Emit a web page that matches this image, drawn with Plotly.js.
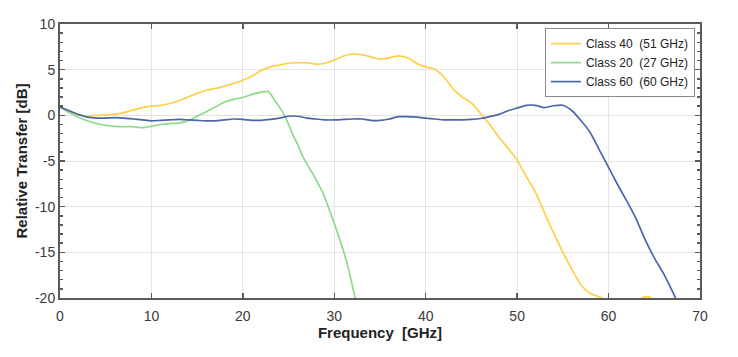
<!DOCTYPE html>
<html>
<head>
<meta charset="utf-8">
<script src="https://cdn.plot.ly/plotly-3.0.1.min.js"></script>
<style>html,body{margin:0;padding:0;background:#fff;}#chart{width:738px;height:357px;}</style>
</head>
<body>
<div id="chart"></div>
<script>
// Class 40 (51 GHz) - yellow
const class40Freq = [0,1,2,3,4,5,6,7,8,9,10,11,12,13,14,15,16,17,18,19,20,21,22,23,24,25,26,27,28,29,30,31,32,33,34,35,36,37,38,39,40,41,42,43,44,45,46,47,48,49,50,51,52,53,54,55,56,57,58,59,60,61,62,63,63.8,64.5,65,66,70];
const class40Val = [0.9,0.5,0.1,-0.1,0.0,0.05,0.14,0.3,0.6,0.85,1.0,1.1,1.3,1.6,2.0,2.4,2.75,2.95,3.2,3.5,3.85,4.3,4.9,5.3,5.5,5.7,5.76,5.76,5.6,5.7,6.05,6.5,6.7,6.65,6.4,6.15,6.3,6.5,6.3,5.7,5.3,5.05,4.2,2.9,2.0,1.35,0.2,-1.0,-2.4,-3.6,-4.9,-6.7,-8.4,-10.7,-12.9,-15.0,-16.9,-18.6,-19.5,-19.9,-20.5,-21,-21,-20.5,-19.9,-19.9,-20.3,-21,-21];

// Class 20 (27 GHz) - green
const class20Freq = [0,1,2,3,4,5,6,7,8,9,10,11,12,13,14,15,16,17,18,19,20,21,22,22.8,23.5,24,24.5,25,25.5,26,26.6,27.7,28.8,29.7,30.6,31.4,32.3,33];
const class20Val = [0.95,0.3,-0.2,-0.6,-0.9,-1.1,-1.2,-1.25,-1.25,-1.35,-1.2,-1.0,-0.9,-0.85,-0.6,-0.1,0.4,0.9,1.45,1.75,1.95,2.3,2.55,2.6,1.6,0.9,0.1,-1.0,-2.2,-3.2,-4.6,-6.5,-8.6,-11.0,-13.6,-16.2,-20,-22];

// Class 60 (60 GHz) - blue
const class60Freq = [0,1,2,3,4,5,6,7,8,9,10,11,12,13,14,15,16,17,18,19,20,21,22,23,24,25,26,27,28,29,30,31,32,33,34,35,36,37,38,39,40,41,42,43,44,45,46,47,48,49,50,51,52,53,54,55,56,57,58,59,60,61,62,63,64,65,66,67,67.5,68];
const class60Val = [0.9,0.5,0.1,-0.2,-0.3,-0.3,-0.26,-0.3,-0.4,-0.5,-0.6,-0.55,-0.5,-0.45,-0.5,-0.55,-0.6,-0.6,-0.5,-0.4,-0.45,-0.55,-0.55,-0.45,-0.3,-0.1,-0.1,-0.3,-0.4,-0.5,-0.5,-0.45,-0.4,-0.4,-0.55,-0.55,-0.4,-0.15,-0.15,-0.2,-0.3,-0.4,-0.5,-0.5,-0.5,-0.45,-0.35,-0.15,0.1,0.5,0.8,1.1,1.1,0.85,1.05,1.1,0.5,-0.6,-1.9,-3.8,-5.7,-7.6,-9.4,-11.3,-13.6,-15.6,-17.3,-19.3,-20.5,-22];

const seriesNames = ["Class\u00a040\u00a0\u00a0(51\u00a0GHz)", "Class\u00a020\u00a0\u00a0(27\u00a0GHz)", "Class\u00a060\u00a0\u00a0(60\u00a0GHz)"];
const xTicks = [0,10,20,30,40,50,60,70];
const yTicks = [10,5,0,-5,-10,-15,-20];

const traces = [
  {x: class40Freq, y: class40Val, name: seriesNames[0], type: 'scatter', mode: 'lines', line: {color: '#FDD04A', width: 1.7, shape: 'spline', smoothing: 0.6}},
  {x: class20Freq, y: class20Val, name: seriesNames[1], type: 'scatter', mode: 'lines', line: {color: '#8FD98A', width: 1.7, shape: 'spline', smoothing: 0.6}},
  {x: class60Freq, y: class60Val, name: seriesNames[2], type: 'scatter', mode: 'lines', line: {color: '#4C66A8', width: 1.7, shape: 'spline', smoothing: 0.6}}
];

const axisCommon = {
  showline: true, linecolor: '#5a5a5a', linewidth: 2, mirror: 'ticks',
  ticks: 'inside', ticklen: 5, tickwidth: 1.5, tickcolor: '#5a5a5a',
  showgrid: true, gridcolor: '#e4e4e4', gridwidth: 1,
  zeroline: false,
  tickfont: {family: 'Liberation Sans, Arial, sans-serif', size: 14, color: '#3a3a3a'}
};

const layout = {
  width: 738, height: 357,
  margin: {l: 60, r: 38, t: 24, b: 59},
  paper_bgcolor: '#fff', plot_bgcolor: '#fff',
  showlegend: true,
  xaxis: Object.assign({}, axisCommon, {
    range: [0, 70], tickvals: xTicks, ticktext: xTicks.map(String),
    ticklabelstandoff: 4,
    title: {text: '<b>Frequency\u00a0\u00a0[GHz]</b>', font: {family: 'Liberation Sans, Arial, sans-serif', size: 15, color: '#222'}, standoff: 4}
  }),
  yaxis: Object.assign({}, axisCommon, {
    range: [-20, 10], tickvals: yTicks, ticktext: yTicks.map(String),
    minor: {ticks: 'inside', dtick: 1, ticklen: 3, tickcolor: '#5a5a5a', showgrid: false},
    title: {text: '<b>Relative Transfer [dB]</b>', font: {family: 'Liberation Sans, Arial, sans-serif', size: 15, color: '#222'}, standoff: 4}
  }),
  legend: {
    x: 0.992, y: 0.985, xanchor: 'right', yanchor: 'top',
    bgcolor: '#fff', bordercolor: '#8a8a8a', borderwidth: 1,
    font: {family: 'Liberation Sans, Arial, sans-serif', size: 12, color: '#222'},
    tracegroupgap: 0, itemwidth: 30
  }
};

Plotly.newPlot('chart', traces, layout, {displayModeBar: false, staticPlot: true}).then(function(){
  // tighten legend row spacing
});
</script>
</body>
</html>
